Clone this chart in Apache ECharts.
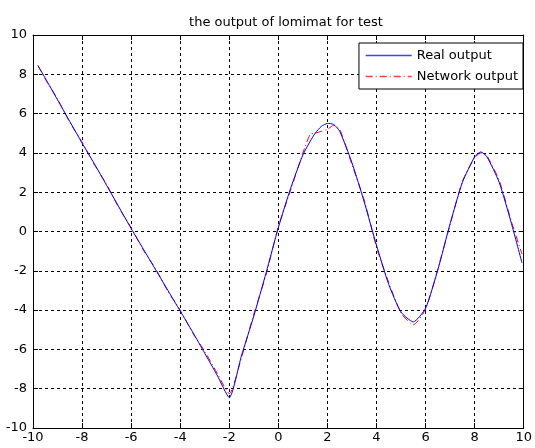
<!DOCTYPE html>
<html>
<head>
<meta charset="utf-8">
<script src="https://cdn.jsdelivr.net/npm/echarts@6/dist/echarts.min.js"></script>
<style>
  html, body { margin: 0; padding: 0; background: #fff; }
  #main { width: 535px; height: 448px; }
</style>
</head>
<body>
<div id="main"></div>
<script>
var chartTitle = "the output of lomimat for test";
var seriesNames = ["Real output", "Network output"];
var seriesColors = ["#0000ff", "#ff0000"];

// x positions
var xValues = [-9.8, -9.5, -9, -8.5, -8, -7.5, -7, -6.5, -6, -5.5, -5, -4.5, -4, -3.5, -3, -2.5, -2,
  -1.5, -1, -0.5, 0, 0.5, 1, 1.3, 1.5, 1.75, 2, 2.25, 2.5, 3, 3.5, 4, 4.5, 5, 5.5, 6, 6.5, 7, 7.5,
  8, 8.25, 8.5, 9, 9.5, 9.93];

// blue solid curve
var realOutput = [8.45, 7.8, 6.7, 5.6, 4.5, 3.45, 2.35, 1.25, 0.15, -0.9, -1.95, -3.0, -4.05, -5.1, -6.2, -7.3, -8.45,
  -6.3, -4.3, -2.1, 0.2, 2.2, 3.9, 4.6, 5.0, 5.35, 5.5, 5.45, 5.1, 3.5, 1.5, -0.7, -2.7, -4.1, -4.6, -3.9, -1.95, 0.4, 2.5,
  3.8, 4.05, 3.8, 2.5, 0.4, -1.6];

// red dash-dot curve
var networkOutput = [8.45, 7.75, 6.75, 5.55, 4.55, 3.4, 2.4, 1.2, 0.2, -0.95, -1.9, -3.05, -4.0, -5.15, -6.1, -7.2, -8.25,
  -6.4, -4.2, -2.2, 0.25, 2.1, 4.0, 4.95, 5.0, 5.1, 5.2, 5.4, 5.2, 3.4, 1.6, -0.8, -2.6, -4.15, -4.75, -3.95, -1.9, 0.35, 2.55,
  3.75, 4.0, 3.85, 2.6, 0.5, -1.15];

var tickMin = -10, tickMax = 10, tickStep = 2;

function pairUp(xs, ys) {
  var out = [];
  for (var i = 0; i < xs.length; i++) out.push([xs[i], ys[i]]);
  return out;
}

var chart = echarts.init(document.getElementById("main"), null, { renderer: "canvas" });

var fontName = "DejaVu Sans, Arial, sans-serif";
var labelFont = { color: "#000", fontSize: 13, fontFamily: fontName };

var option = {
  backgroundColor: "#fff",
  animation: false,
  title: {
    text: chartTitle,
    left: 281, top: 11, textAlign: "center",
    textStyle: { color: "#000", fontSize: 13, fontWeight: "normal", fontFamily: fontName }
  },
  legend: {
    orient: "vertical",
    right: 12, top: 43,
    backgroundColor: "#fff",
    borderColor: "#000", borderWidth: 1, borderRadius: 0,
    padding: [6, 5, 6, 6],
    itemWidth: 46, itemHeight: 14, itemGap: 8,
    itemStyle: { opacity: 0 },
    lineStyle: { color: "inherit", width: 1.5, type: "inherit", opacity: 0.75 },
    textStyle: { color: "#000", fontSize: 13, fontFamily: fontName },
    data: seriesNames
  },
  grid: { left: 33, right: 5, top: 35, bottom: 20, containLabel: false },
  xAxis: [{
    type: "value", min: tickMin, max: tickMax, interval: tickStep,
    axisLine: { show: true, onZero: false, lineStyle: { color: "#000", width: 1 } },
    axisTick: { show: true, inside: true, length: 5, lineStyle: { color: "#000" } },
    axisLabel: Object.assign({ margin: 3 }, labelFont),
    splitLine: { show: true, lineStyle: { color: "#000", type: [3, 3], width: 1 } }
  }, {
    type: "value", position: "top", min: tickMin, max: tickMax, interval: tickStep,
    axisLine: { show: true, onZero: false, lineStyle: { color: "#000", width: 1 } },
    axisTick: { show: true, inside: true, length: 5, lineStyle: { color: "#000" } },
    axisLabel: { show: false },
    splitLine: { show: false }
  }],
  yAxis: [{
    type: "value", min: tickMin, max: tickMax, interval: tickStep,
    axisLine: { show: true, onZero: false, lineStyle: { color: "#000", width: 1 } },
    axisTick: { show: true, inside: true, length: 5, lineStyle: { color: "#000" } },
    axisLabel: Object.assign({ margin: 6 }, labelFont),
    splitLine: { show: true, lineStyle: { color: "#000", type: [3, 3], width: 1 } }
  }, {
    type: "value", position: "right", min: tickMin, max: tickMax, interval: tickStep,
    axisLine: { show: true, onZero: false, lineStyle: { color: "#000", width: 1 } },
    axisTick: { show: true, inside: true, length: 5, lineStyle: { color: "#000" } },
    axisLabel: { show: false },
    splitLine: { show: false }
  }],
  series: [{
    name: seriesNames[0],
    type: "line",
    data: pairUp(xValues, realOutput),
    symbol: "none",
    smooth: 0.2,
    color: seriesColors[0],
    lineStyle: { color: seriesColors[0], width: 1, type: "solid" },
    z: 3
  }, {
    name: seriesNames[1],
    type: "line",
    data: pairUp(xValues, networkOutput),
    symbol: "none",
    smooth: 0.2,
    color: seriesColors[1],
    lineStyle: { color: seriesColors[1], width: 1, type: [7, 3, 1, 3] },
    z: 2
  }]
};

chart.setOption(option);
</script>
</body>
</html>
